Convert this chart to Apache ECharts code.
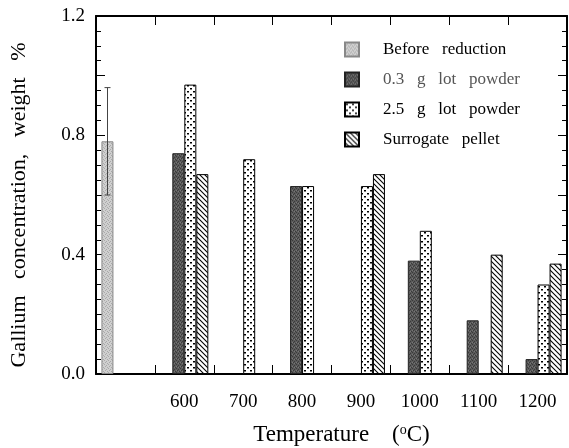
<!DOCTYPE html>
<html><head><meta charset="utf-8">
<script src="https://cdn.jsdelivr.net/npm/echarts@6/dist/echarts.min.js"></script>
<style>html,body{margin:0;padding:0;background:#fff}#c{width:569px;height:448px}</style>
</head><body><div id="c"></div>
<script>
// ---- data ----
const categories = ['', '600', '700', '800', '900', '1000', '1100', '1200'];
const seriesNames = ['Before reduction', '0.3 g lot powder', '2.5 g lot powder', 'Surrogate pellet'];
const beforeReduction = [0.78, null, null, null, null, null, null, null];
const beforeErrLow = [0.60];
const beforeErrHigh = [0.96];
const lot03 = [null, 0.74, null, 0.63, null, 0.38, 0.18, 0.05];
const lot25 = [null, 0.97, 0.72, 0.63, 0.63, 0.48, null, 0.30];
const pellet = [null, 0.67, null, null, 0.67, null, 0.40, 0.37];
const yTickLabels = ['0.0', '0.4', '0.8', '1.2'];

// ---- patterns ----
function mk(w, h, draw) {
  const c = document.createElement('canvas'); c.width = w; c.height = h;
  const g = c.getContext('2d'); draw(g, w, h);
  return { image: c, repeat: 'repeat' };
}
const patLight = mk(4, 4, (g) => {
  g.fillStyle = '#cfcfcf'; g.fillRect(0, 0, 4, 4);
  g.fillStyle = '#a9a9a9';
  g.fillRect(0, 0, 1, 1); g.fillRect(2, 1, 1, 1); g.fillRect(1, 2, 1, 1); g.fillRect(3, 3, 1, 1);
});
const patDark = mk(4, 4, (g) => {
  g.fillStyle = '#5a5a5a'; g.fillRect(0, 0, 4, 4);
  g.fillStyle = '#3a3a3a';
  g.fillRect(0, 0, 1, 1); g.fillRect(2, 1, 1, 1); g.fillRect(1, 2, 1, 1); g.fillRect(3, 3, 1, 1);
  g.fillStyle = '#777';
  g.fillRect(2, 3, 1, 1); g.fillRect(0, 2, 1, 1);
});
const patDots = mk(6, 6, (g) => {
  g.fillStyle = '#fff'; g.fillRect(0, 0, 6, 6);
  g.fillStyle = '#000';
  g.fillRect(1, 1, 2, 1.5); g.fillRect(4, 4, 2, 1.5);
});
const patHatch = mk(5, 5, (g) => {
  g.fillStyle = '#fff'; g.fillRect(0, 0, 5, 5);
  g.strokeStyle = '#000'; g.lineWidth = 1.1;
  for (let k = -5; k <= 5; k += 5) {
    g.beginPath(); g.moveTo(k - 1, -1); g.lineTo(k + 6, 6); g.stroke();
  }
});

const BW = 12;
const font = '"Liberation Serif", "Times New Roman", serif';

const chart = echarts.init(document.getElementById('c'), null, { renderer: 'canvas' });

function barSeries(name, data, fill, border) {
  return {
    type: 'bar', name, data, barWidth: BW, barGap: '0%',
    itemStyle: { color: fill, borderColor: border, borderWidth: 1 },
    emphasis: { disabled: true }, animation: false
  };
}

const axisLine = { show: true, onZero: false, lineStyle: { color: '#000', width: 2 } };

chart.setOption({
  backgroundColor: '#fff',
  animation: false,
  grid: { left: 96, right: 2, top: 16, bottom: 74, containLabel: false, outerBoundsMode: 'none' },
  legend: {
    orient: 'vertical', left: 339, top: 36,
    itemWidth: 14, itemHeight: 14, itemGap: 13,
    icon: 'rect',
    selectedMode: false,
    textStyle: { fontFamily: font, fontSize: 17, color: '#000', padding: [0, 0, 0, 19] },
    data: [
      { name: seriesNames[0] },
      { name: seriesNames[1], textStyle: { color: '#555' } },
      { name: seriesNames[2] },
      { name: seriesNames[3] }
    ],
    formatter: (n) => n.replace(/ /g, '   ')
  },
  xAxis: [{
    type: 'category', data: categories, position: 'bottom',
    axisLine, axisTick: { show: true, inside: true, length: 9, lineStyle: { color: '#000', width: 1 } },
    axisLabel: { fontFamily: font, fontSize: 19, color: '#000', margin: 19 },
    name: 'Temperature    ({s|o}C)', nameLocation: 'middle', nameGap: 49,
    nameTextStyle: { fontFamily: font, fontSize: 23, color: '#000', padding: [0, 0, 0, 20],
      rich: { s: { fontFamily: font, fontSize: 14, verticalAlign: 'top', padding: [0, 0, 9, 0] } } }
  }, {
    type: 'category', data: categories, position: 'top',
    axisLine, axisTick: { show: true, inside: true, length: 9, lineStyle: { color: '#000', width: 1 } },
    axisLabel: { show: false }
  }],
  yAxis: [{
    type: 'value', min: 0, max: 1.2, interval: 0.2, position: 'left',
    axisLine, splitLine: { show: false },
    axisTick: { show: true, inside: true, length: 9, lineStyle: { color: '#000', width: 1 } },
    minorTick: { show: true, splitNumber: 4, length: 5, lineStyle: { color: '#000', width: 1 } },
    axisLabel: { fontFamily: font, fontSize: 19, color: '#000', margin: 11,
      formatter: (v) => yTickLabels.includes(v.toFixed(1)) ? v.toFixed(1) : '' },
    name: 'Gallium   concentration,   weight   %', nameLocation: 'middle', nameGap: 66,
    nameTextStyle: { fontFamily: font, fontSize: 22, color: '#000', padding: [0, 20, 0, 0] }
  }, {
    type: 'value', min: 0, max: 1.2, interval: 0.2, position: 'right',
    axisLine, splitLine: { show: false },
    axisTick: { show: true, inside: true, length: 9, lineStyle: { color: '#000', width: 1 } },
    minorTick: { show: true, splitNumber: 4, length: 5, lineStyle: { color: '#000', width: 1 } },
    axisLabel: { show: false }
  }],
  series: [
    barSeries(seriesNames[0], beforeReduction, patLight, '#888'),
    barSeries(seriesNames[1], lot03, patDark, '#222'),
    barSeries(seriesNames[2], lot25, patDots, '#000'),
    barSeries(seriesNames[3], pellet, patHatch, '#000'),
    {
      type: 'custom', name: 'err', z: 5, silent: true,
      data: beforeErrLow.map((lo, i) => [i, lo, beforeErrHigh[i]]),
      renderItem: (params, api) => {
        const lo = api.coord([api.value(0), api.value(1)]);
        const hi = api.coord([api.value(0), api.value(2)]);
        const x = Math.round(lo[0] - 1.5 * BW) + 0.5;
        const st = { stroke: '#444', lineWidth: 1 };
        return { type: 'group', children: [
          { type: 'line', shape: { x1: x, y1: lo[1], x2: x, y2: hi[1] }, style: st },
          { type: 'line', shape: { x1: x - 3, y1: hi[1], x2: x + 3, y2: hi[1] }, style: st },
          { type: 'line', shape: { x1: x - 3, y1: lo[1], x2: x + 3, y2: lo[1] }, style: st }
        ] };
      }
    }
  ]
});
</script></body></html>
